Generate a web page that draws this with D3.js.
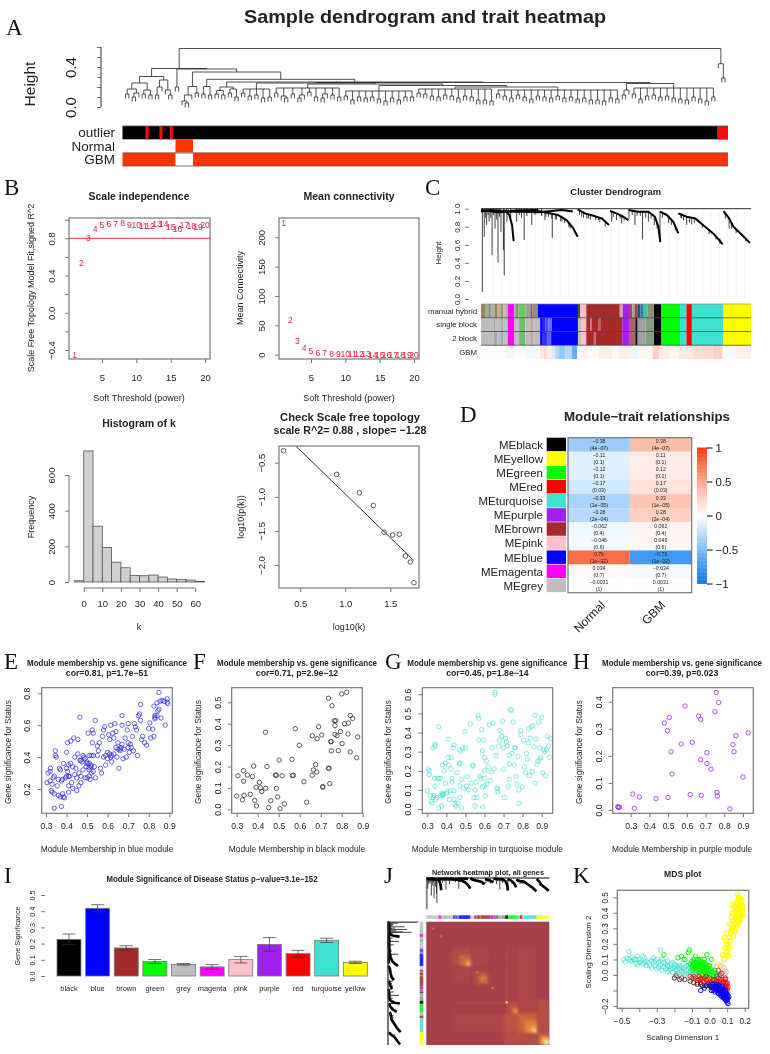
<!DOCTYPE html>
<html>
<head>
<meta charset="utf-8">
<script src="https://cdn.jsdelivr.net/npm/d3@7/dist/d3.min.js"></script>
<style>
  html, body { margin: 0; padding: 0; background: #fff; }
  svg { display: block; filter: blur(0.5px); }
  text { font-family: "Liberation Sans", Arial, sans-serif; fill: #222; }
</style>
</head>
<body>
<div id="chart"></div>
<script>
////////////////////////////////////////////////////////////////////////
// Data

// A: sample tree, a node is [height, child, child, ...] and a leaf is 0
let sampleGroupA = [.305,[.24,[.18,[.13,0,0],[.14,[.1,0,0],0]],[.17,[.13,0,0],[.12,0,0]]],[.27,[.2,[.12,0,0],0],[.17,0,[.12,0,0]]]];
let sampleStub = [.2,0,0];
let sampleGroupB = [.205,[.12,[.06,0,[.04,0,0]],0],[.14,0,0]];
let sampleGroupC = [.205,[.13,0,0],[.12,0,0]];
let sampleGroupC2 = [.2,[.165,[.13,0,0],[.12,0,0]],[.18,[.14,0,0],[.1,0,0]]];
let sampleGroupD = [.18,[.14,0,0],[.11,0,0],[.12,0,0],[.09,0,0],[.1,0,0]];
let sampleGroupE = [.19,[.14,0,0],[.11,0,[.09,0,0]],[.13,0,0],[.12,[.09,0,0],0],[.15,0,0],[.1,0,0],[.13,[.09,0,0],0],[.12,0,0],[.1,0,0]];
let sampleGroupF = [.16,[.11,0,0],[.07,0,0],[.1,0,0],[.09,0,0],[.1,0,0],[.08,0,0],[.06,0,0],[.09,0,0],[.07,0,0],[.1,0,0],[.1,0,0]];
let sampleGroupG = [.18,[.14,0,0],[.13,0,0],[.11,0,0],[.1,0,0],[.12,0,0],[.11,0,0],[.09,0,0],[.11,0,0],[.1,0,0],[.07,0,0],[.07,0,0],[.06,0,0]];
let sampleGroupH = [.17,[.13,0,0],[.11,0,0],[.09,0,0],[.12,0,0],[.1,0,0],[.08,0,0],[.11,0,0],[.1,0,0],[.09,0,0],[.11,0,0],[.09,0,0],[.1,0,0],[.08,0,0],[.09,0,0],[.07,0,0],[.07,0,0],[.06,0,0],[.09,0,0],[.08,0,0]];
let sampleGroupI = [.17,[.12,0,0],0];
let sampleGroupJ = [.19,[.13,0,0],[.08,0,0],[.11,0,0],[.12,0,0],[.1,0,0],[.11,0,0],[.09,0,0],[.08,0,0],[.07,0,0],[.1,0,0],[.08,0,0],[.06,0,0],[.1,0,0]];
let sampleOutliers = [.433,0,[.29,0,0]];
let sampleTree = [.585,
  [.385, sampleGroupA,
    [.38, sampleStub,
      [.35, sampleGroupB,
        [.277, sampleGroupC,
          [.25, sampleGroupC2,
            [.245,
              [.24, sampleGroupD, [.23, sampleGroupE, [.215, sampleGroupF, [.2, sampleGroupG, sampleGroupH]]]],
              [.235, sampleGroupI, sampleGroupJ]]]]]]],
  sampleOutliers];

let traitRows = ["outlier", "Normal", "GBM"];
let outlierMarks = [[.038, .043], [.061, .066], [.078, .083], [.982, 1]];
let normalSpan = [.0875, .1165];

// B
let powers = d3.range(1, 21);
let scaleFit = [-.45,.53,.80,.90,.94,.95,.955,.96,.94,.94,.935,.93,.95,.955,.925,.90,.94,.935,.92,.94];
let meanConnectivity = [224,59,22.7,10.8,6,3.5,2.2,1.5,1,.8,.6,.5,.4,.3,.3,.2,.2,.2,.1,.1];
let histBinStarts = [-5,0,5,10,15,20,25,30,35,40,45,50,55,60];
let histCounts = [7,735,313,194,111,80,37,35,39,28,17,15,11,4];
let logK = [.315,.904,1.156,1.311,1.43,1.526,1.6,1.667,1.722,1.763];
let logPk = [-.324,-.672,-.941,-1.128,-1.52,-1.559,-1.549,-1.868,-1.956,-2.26];
let fitLineX = [.3, 1.76];
let fitLineY = [-.063, -1.932];

// C, J: gene tree, position 0-1000 along the genes, height 0-1
let geneCurves = [
  [[0,.97],[40,.985],[89,.97],[130,.98],[212,.985]],
  [[0,.985],[60,.96],[120,.97],[212,.96],[300,.985],[340,.97]],
  [[89,.985],[105,.93],[115,.82],[121,.64]],
  [[212,.974],[249,.952],[286,.93],[317,.874],[342,.781],[358,.689]],
  [[358,.993],[385,.948],[416,.922],[447,.893],[474,.819]],
  [[478,.974],[502,.948],[527,.911],[546,.874]],
  [[546,.985],[583,.967],[620,.967],[644,.911],[657,.8],[664,.633]],
  [[663,.967],[688,.93],[712,.856],[731,.726]],
  [[731,.948],[762,.911],[793,.893],[830,.8],[860,.726],[879,.663],[895,.604]],
  [[898,.974],[919,.893],[935,.8],[965,.715],[996,.622]]
];
// a spike is [position, bottom height, top height if not the top of the tree]
let geneSpikes = [[5,.078],[12,.689],[21,.82],[30,.856],[41,.485],[52,.78],[63,.404],[74,.744],[83,.54],[86,.263],[96,.856],[132,.856],[160,.652],[188,.82],[264,.678,.95],[237,.874,.96],[373,.911,.97],[398,.893,.94],[435,.874,.91],[484,.856,.97],[502,.874,.95],[521,.837,.92],[548,.893,.98],[570,.82,.97],[598,.659,.97],[620,.856,.97],[642,.82,.92],[663,.626,.97],[743,.893,.95],[762,.82,.91],[780,.826,.9],[919,.78,.9],
  [16,.9],[26,.93],[36,.9],[47,.93],[58,.88],[69,.91],[101,.93],[110,.9],[142,.93],[150,.9],[170,.92],[200,.93],[224,.93],[250,.91,.95],[280,.88,.93],[300,.86,.92],[325,.8,.86],
  [225,.92,.97],[240,.91,.96],[262,.89,.94],[275,.88,.94],[295,.86,.92],[310,.84,.89],[330,.78,.83],[365,.93,.98],[380,.9,.96],[392,.89,.94],[405,.88,.93],[425,.87,.92],[440,.85,.9],[460,.8,.85],[490,.91,.96],[515,.89,.93],[530,.87,.91],[560,.93,.98],[578,.92,.97],[590,.92,.97],[610,.9,.97],[630,.89,.95],[652,.78,.85],[672,.9,.96],[695,.84,.92],[705,.82,.87],[720,.76,.82],[740,.9,.94],[750,.87,.92],[772,.85,.91],[790,.84,.89],[805,.85,.88],[820,.79,.84],[845,.72,.77],[870,.66,.71],[885,.61,.67],[905,.89,.95],[928,.78,.84],[945,.73,.77],[980,.64,.68]];
let geneGuides = d3.range(15, 1000, 31);
let geneAxisTicks = [0, .2, .4, .6, .8, 1];

// C: colour rows as [end position, colour]
let moduleTail = [[667,"#000000"],[737,"#00ff00"],[761,"#40e0d0"],[781,"#ff0000"],[898,"#40e0d0"],[1000,"#ffff00"]];
let manualHybridRow = [[15,"#a08060"],[22,"#7fb07f"],[30,"#b5a58c"],[36,"#777777"],[52,"#b8b0a0"],[59,"#808060"],[74,"#c0b090"],[82,"#90a070"],[92,"#c8b8a0"],[99,"#b0b0b0"],[124,"#ff00ff"],[129,"#b0b0a0"],[139,"#70a060"],[164,"#60d060"],[183,"#a0a0a0"],[191,"#a05050"],[211,"#909080"],[359,"#0000ff"],[368,"#505050"],[390,"#ffc0cb"],[514,"#a52a2a"],[525,"#e0a0a8"],[548,"#a020f0"],[560,"#a05040"],[570,"#a0a090"],[579,"#a04040"],[591,"#305070"],[600,"#2080c0"],[616,"#40c0a0"],[641,"#909070"]].concat(moduleTail);
let singleBlockRow = [[46,"#bebebe"],[52,"#a8a0b8"],[74,"#bebebe"],[82,"#a8a8a8"],[99,"#bebebe"],[124,"#ff00ff"],[141,"#bebebe"],[164,"#70c070"],[182,"#bebebe"],[195,"#c8a0a8"],[219,"#bebebe"],[226,"#0000ff"],[238,"#2020ff"],[250,"#4848ff"],[263,"#6a6aff"],[359,"#0000ff"],[372,"#bebebe"],[390,"#ffc0cb"],[405,"#a52a2a"],[411,"#c07070"],[436,"#a52a2a"],[442,"#b86060"],[523,"#a52a2a"],[548,"#a020f0"],[572,"#b06060"],[580,"#000000"],[610,"#a0a0a0"],[641,"#80a080"]].concat(moduleTail);
let twoBlockRow = [[46,"#bebebe"],[60,"#a8a0b8"],[74,"#bebebe"],[82,"#a8a8a8"],[99,"#bebebe"],[124,"#ff00ff"],[141,"#bebebe"],[164,"#70c070"],[182,"#bebebe"],[195,"#c8a0a8"],[219,"#bebebe"],[226,"#0000ff"],[245,"#3030ff"],[258,"#5a5aff"],[263,"#2020ff"],[359,"#0000ff"],[372,"#bebebe"],[390,"#ffc0cb"],[418,"#a52a2a"],[424,"#c07070"],[523,"#a52a2a"],[548,"#a020f0"],[572,"#b06060"],[580,"#000000"],[610,"#a0a0a0"],[641,"#80a080"]].concat(moduleTail);
let gbmRow = [[89,.01],[126,-.05],[164,.02],[219,-.05],[232,.15],[244,.22],[263,.1],[275,-.15],[287,-.3],[312,-.4],[337,-.3],[356,-.6],[374,-.03],[399,.07],[436,.03],[486,.1],[510,.05],[548,.1],[585,-.07],[635,.06],[659,.28],[696,.12],[733,.06],[783,.12],[820,.2],[857,.22],[895,.27],[944,-.03],[1000,.08]];
let geneRowNames = ["manual hybrid", "single block", "2 block", "GBM"];

// D
let moduleNames = ["MEblack","MEyellow","MEgreen","MEred","MEturquoise","MEpurple","MEbrown","MEpink","MEblue","MEmagenta","MEgrey"];
let moduleSwatches = ["#000000","#ffff00","#00ff00","#ff0000","#40e0d0","#a020f0","#a52a2a","#ffc0cb","#0000ff","#ff00ff","#bebebe"];
let normalCor = [-.38,-.11,-.12,-.17,-.33,-.28,-.062,-.046,.76,.034,-.0031];
let normalCorText = ["−0.38","−0.11","−0.12","−0.17","−0.33","−0.28","−0.062","−0.046","0.76","0.034","−0.0031"];
let gbmCorText = ["0.38","0.11","0.12","0.17","0.33","0.28","0.062","0.046","−0.76","−0.034","0.0031"];
let corP = ["(4e−07)","(0.1)","(0.1)","(0.03)","(1e−05)","(2e−04)","(0.4)","(0.6)","(1e−32)","(0.7)","(1)"];
let traitNames = ["Normal", "GBM"];
let legendTicks = [-1, -.5, 0, .5, 1];
let legendLabels = ["−1", "−0.5", "0", "0.5", "1"];

// E-H
let bluePoints = [[.305,.24],[.31,.3],[.32,.31],[.322,.33],[.32,.25],[.325,.19],[.33,.18],[.33,.23],[.335,.27],[.34,.28],[.34,.17],[.345,.41],[.35,.4],[.345,.44],[.34,.08],[.355,.22],[.36,.26],[.36,.16],[.365,.33],[.37,.32],[.37,.15],[.375,.09],[.375,.25],[.38,.26],[.38,.17],[.385,.15],[.39,.145],[.385,.36],[.395,.27],[.40,.43],[.405,.49],[.40,.33],[.405,.31],[.41,.35],[.41,.18],[.41,.22],[.415,.28],[.42,.36],[.42,.5],[.425,.24],[.43,.205],[.43,.34],[.435,.52],[.44,.29],[.44,.4],[.445,.33],[.45,.19],[.455,.51],[.45,.27],[.455,.42],[.46,.3],[.46,.22],[.465,.38],[.465,.65],[.47,.24],[.47,.28],[.475,.37],[.48,.32],[.48,.41],[.485,.4],[.49,.39],[.495,.34],[.50,.37],[.50,.27],[.505,.55],[.51,.36],[.51,.32],[.51,.28],[.515,.26],[.52,.41],[.52,.35],[.525,.49],[.525,.57],[.53,.55],[.53,.41],[.53,.31],[.535,.34],[.54,.63],[.54,.27],[.55,.41],[.55,.47],[.555,.44],[.56,.49],[.565,.33],[.57,.3],[.575,.53],[.58,.57],[.585,.59],[.59,.41],[.59,.35],[.6,.43],[.6,.39],[.605,.54],[.61,.51],[.615,.6],[.615,.4],[.62,.37],[.625,.55],[.63,.52],[.63,.42],[.635,.61],[.64,.56],[.64,.46],[.645,.4],[.65,.49],[.655,.33],[.66,.44],[.665,.46],[.67,.66],[.67,.6],[.675,.39],[.68,.45],[.685,.52],[.69,.4],[.695,.57],[.70,.61],[.70,.49],[.705,.43],[.71,.48],[.715,.46],[.72,.53],[.725,.44],[.73,.61],[.735,.59],[.74,.57],[.745,.41],[.75,.66],[.755,.67],[.76,.73],[.76,.63],[.765,.51],[.77,.53],[.78,.49],[.79,.475],[.80,.58],[.805,.615],[.81,.52],[.82,.575],[.825,.53],[.825,.72],[.83,.65],[.83,.64],[.84,.74],[.84,.66],[.845,.69],[.85,.805],[.855,.75],[.86,.645],[.865,.755],[.875,.75],[.88,.6],[.89,.765],[.89,.745],[.892,.735],[.85,.7],[.83,.66],[.51,.41],[.52,.3],[.49,.27],[.66,.45],[.7,.46],[.62,.41],[.58,.4],[.47,.38],[.4,.28],[.41,.28],[.5,.36],[.51,.335],[.52,.34],[.65,.45],[.61,.42],[.67,.48]];
let blackPoints = [[.3,.062],[.306,.157],[.327,.044],[.335,.065],[.332,.181],[.333,.131],[.351,.16],[.365,.07],[.375,.153],[.381,.202],[.386,.042],[.392,.103],[.394,.016],[.408,.126],[.413,.1],[.419,.083],[.438,.098],[.444,.2],[.437,.36],[.452,.008],[.462,.04],[.489,.098],[.484,.16],[.489,.159],[.495,.058],[.502,.23],[.506,.003],[.516,.157],[.527,.025],[.563,.234],[.565,.157],[.57,.159],[.579,.377],[.598,.299],[.62,.129],[.633,.033],[.659,.159],[.66,.344],[.665,.184],[.676,.209],[.681,.174],[.683,.33],[.69,.386],[.705,.347],[.71,.103],[.71,.107],[.737,.192],[.74,.192],[.737,.519],[.743,.12],[.748,.316],[.75,.316],[.751,.273],[.754,.484],[.765,.414],[.771,.414],[.768,.391],[.768,.35],[.778,.344],[.784,.274],[.794,.363],[.8,.539],[.802,.307],[.813,.4],[.824,.547],[.832,.403],[.83,.352],[.841,.438],[.841,.268],[.852,.424],[.871,.241],[.876,.338]];
let turquoisePoints = [[.3,.095],[.305,.21],[.31,.2],[.31,.18],[.315,.07],[.32,.04],[.325,.03],[.33,.32],[.33,.06],[.335,.07],[.34,.34],[.34,.33],[.34,.16],[.34,.12],[.345,.05],[.35,.06],[.355,.16],[.36,.43],[.36,.16],[.36,.005],[.37,.16],[.37,.07],[.375,.015],[.375,.08],[.38,.23],[.38,.07],[.385,.08],[.39,.2],[.395,.24],[.395,.135],[.4,.08],[.405,.09],[.41,.365],[.41,.27],[.41,.23],[.415,.05],[.42,.095],[.425,.27],[.425,.21],[.43,.16],[.43,.14],[.435,.32],[.44,.335],[.44,.095],[.44,.05],[.445,.025],[.45,.015],[.455,.19],[.46,.03],[.47,.31],[.47,.24],[.47,.12],[.47,.06],[.475,.3],[.48,.155],[.48,.005],[.485,.32],[.49,.11],[.495,.405],[.5,.32],[.505,.12],[.51,.17],[.515,.1],[.525,.445],[.53,.135],[.54,.23],[.545,.06],[.55,.1],[.55,.015],[.555,.14],[.56,.06],[.565,.49],[.57,.475],[.57,.36],[.575,.17],[.58,.16],[.585,.415],[.59,.305],[.59,.01],[.595,.36],[.6,.27],[.6,.2],[.6,.12],[.605,.07],[.61,.25],[.615,.13],[.62,.22],[.625,.44],[.63,.15],[.635,.195],[.64,.32],[.645,.45],[.65,.21],[.655,.61],[.655,.6],[.66,.28],[.665,.11],[.67,.09],[.675,.33],[.68,.41],[.68,.36],[.69,.38],[.695,.46],[.7,.32],[.7,.21],[.705,.06],[.71,.37],[.715,.35],[.72,.33],[.725,.12],[.73,.28],[.73,.155],[.735,.52],[.74,.515],[.745,.29],[.75,.455],[.755,.23],[.76,.32],[.765,.17],[.77,.13],[.775,.275],[.78,.03],[.78,.1],[.79,.41],[.79,.39],[.8,.115],[.805,.36],[.81,.22],[.815,.19],[.82,.29],[.825,.26],[.83,.42],[.83,.345],[.835,.175],[.84,.37],[.845,.43],[.85,.195],[.855,.435],[.86,.325],[.865,.49],[.865,.135],[.87,.365],[.875,.235],[.88,.25],[.885,.455],[.89,.26],[.89,.32],[.895,.27],[.9,.48],[.905,.19],[.91,.31],[.915,.3],[.92,.175],[.925,.31],[.93,.38],[.935,.33],[.94,.27],[.945,.37],[.59,.115],[.6,.16],[.47,.235],[.54,.225],[.38,.075],[.67,.105],[.73,.235],[.76,.32]];
let purplePoints = [[.231,.012],[.234,.01],[.24,.01],[.311,.059],[.32,.006],[.346,.048],[.435,.042],[.48,.321],[.496,.293],[.499,.046],[.506,.342],[.515,.215],[.521,.133],[.57,.244],[.59,.384],[.618,.057],[.629,.25],[.663,.347],[.674,.335],[.674,.186],[.677,.054],[.707,.212],[.707,.172],[.729,.151],[.75,.363],[.757,.434],[.761,.065],[.763,.052],[.77,.397],[.83,.004],[.846,.241],[.852,.215],[.862,.274],[.9,.122],[.928,.285]];
let statusTitles = ["cor=0.81, p=1.7e−51", "cor=0.71, p=2.9e−12", "cor=0.45, p=1.8e−14", "cor=0.39, p=0.023"];
let statusLabels = ["Module Membership in blue module", "Module Membership in black module", "Module Membership in turquoise module", "Module Membership in purple module"];
let membershipTicks = [.3, .4, .5, .6, .7, .8, .9];

// I
let barModules = ["black","blue","brown","green","grey","magenta","pink","purple","red","turquoise","yellow"];
let barColors = ["#000000","#0000ff","#a52a2a","#00ff00","#bebebe","#ff00ff","#ffc0cb","#a020f0","#ff0000","#40e0d0","#ffff00"];
let barValues = [.226,.418,.173,.09,.072,.056,.101,.195,.138,.22,.084];
let barErrors = [.033,.022,.014,.012,.005,.014,.02,.042,.02,.013,.007];
let barTicks = [0, .1, .2, .3, .4, .5];

// J: heat rectangles as [x0, x1, y0, y1, level], gene positions 0-1000
let tomRects = [
  [740,897,216,740,.06],[216,740,740,897,.06],[630,897,905,1000,.14],[905,1000,630,897,.14],
  [206,360,216,360,.13],[270,360,270,360,.34],[310,360,310,360,.55],[335,360,335,360,.78],
  [395,504,405,514,.14],[430,500,430,500,.32],[445,480,445,480,.55],
  [667,740,662,738,.2],[700,740,700,738,.5],[720,740,720,738,.78],
  [631,897,743,900,.2],[740,897,740,900,.32],[800,897,800,900,.5],[850,897,850,900,.72],[875,897,875,900,.92],
  [905,1000,905,1000,.32],[935,1000,935,1000,.7],[965,1000,965,1000,1],
  [380,500,216,360,.05],[216,360,380,500,.05]
];
let tomStripes = [[260,.08],[340,.12],[420,.08],[560,.08],[653,.28],[700,.1],[770,.16],[800,.18],[835,.16],[865,.2]];
let tomDots = [57,119,290,412,468,539,653,780];

// K: MDS points, one list per module
let mdsTurquoise = [[-.49,.1],[-.48,.085],[-.47,.11],[-.46,.1],[-.45,.09],[-.44,.115],[-.43,.1],[-.42,.075],[-.41,.12],[-.41,.065],[-.4,.1],[-.39,.085],[-.38,.07],[-.38,.12],[-.37,.11],[-.36,.09],[-.34,.06],[-.33,.045],[-.32,.11],[-.32,.08],[-.31,.06],[-.3,.1],[-.3,.04],[-.29,.08],[-.28,.065],[-.27,.1],[-.27,.03],[-.26,.05],[-.25,.07],[-.24,.02],[-.23,.055],[-.22,.04],[-.21,.08],[-.21,.015],[-.2,.05],[-.19,.03],[-.18,.01],[-.17,.06],[-.16,.025],[-.15,.1],[-.15,.04],[-.14,.005],[-.13,.03],[-.12,.07],[-.11,.02],[-.1,.05],[-.09,0],[-.08,.03],[-.07,-.01],[-.06,.01],[-.05,.05],[-.04,-.02],[-.03,-.005],[-.02,.02],[-.28,.16],[-.46,.15],[-.33,.09],[-.24,.09],[-.18,.05],[-.13,.06],[-.09,.07],[-.35,.08],[-.31,.09],[-.28,.09],[-.26,.08],[-.24,.06],[-.22,.07],[-.2,.07],[-.19,.06],[-.17,.04],[-.16,.05],[-.15,.02],[-.14,.05],[-.13,.01],[-.12,.04],[-.11,.05],[-.1,.01],[-.09,.03],[-.08,0],[-.07,.02],[-.06,.03],[-.05,0],[-.05,.02],[-.44,.09],[-.42,.1],[-.4,.08],[-.37,.08],[-.36,.06],[-.29,.05],[-.25,.04],[-.23,.03],[-.21,.04],[-.19,.01],[-.17,0],[-.12,0],[-.08,.06],[-.04,.02]];
let mdsYellow = [[.085,.1],[.075,.13],[.09,.17],[.1,.2],[.095,.15],[.11,.24],[.105,.19],[.1,.27],[.085,.24],[.12,.27],[.125,.32],[.115,.33],[.13,.3],[.135,.35],[.14,.29],[.125,.37],[.13,.4],[.14,.37],[.145,.41],[.15,.33],[.155,.36],[.15,.43],[.16,.4],[.165,.38],[.165,.44],[.17,.36],[.175,.42],[.175,.47],[.18,.39],[.185,.45],[.155,.47],[.165,.5],[.16,.52],[.18,.49],[.17,.4],[.14,.44],[.13,.45],[.19,.38],[.11,.12],[.06,.06],[.14,.33],[.15,.38],[.16,.35],[.17,.43],[.18,.42],[.19,.41],[.185,.48],[.175,.44],[.165,.41],[.155,.4],[.145,.36],[.135,.31],[.125,.29],[.15,.45],[.16,.46],[.17,.49],[.175,.38],[.165,.35],[.155,.31],[.145,.28],[.135,.25],[.12,.22],[.115,.18],[.105,.16],[.095,.22],[.1,.13],[.17,.34],[.18,.37],[.19,.44],[.16,.43]];
let mdsGreen = [[-.26,.13],[-.18,.11],[-.16,.12],[-.12,.145],[-.115,.16],[-.14,.1],[-.1,.06],[-.09,.1],[-.09,.04],[-.08,.08],[-.08,.12],[-.07,.05],[-.07,.09],[-.06,.03],[-.06,.07],[-.05,.1],[-.05,.05],[-.04,.02],[-.04,.06],[-.03,.08],[-.03,.04],[-.02,.01],[-.02,.05],[-.01,.03],[0,0],[0,.06],[.01,.02],[.02,-.01],[.03,.01],[-.11,.07],[-.1,.09],[-.075,.03],[-.055,.085],[-.035,.03],[-.045,.075],[-.065,.06],[-.015,.13],[.01,.1],[-.025,.06],[-.1,.03],[-.09,.07],[-.085,.055],[-.08,.05],[-.075,.07],[-.07,.07],[-.065,.04],[-.06,.05],[-.06,.09],[-.055,.06],[-.05,.07],[-.05,.03],[-.045,.05],[-.04,.04],[-.04,.08],[-.035,.06],[-.03,.06],[-.03,.02],[-.025,.04],[-.02,.03],[-.02,.07],[-.015,.05],[-.01,.01],[-.01,.06],[0,.03],[.005,.04],[-.07,.1],[-.05,.09],[-.03,.1],[-.09,.085],[.02,.02],[.03,.03],[.04,0],[-.02,0],[-.06,.02],[.01,0],[-.04,0]];
let mdsBrown = [[-.19,-.005],[-.16,-.02],[-.1,-.02],[-.07,-.05],[-.05,-.03],[-.03,-.02],[-.01,-.05],[0,-.02],[.01,-.06],[.03,-.03],[.04,-.05],[.05,-.02],[.06,-.04],[.07,-.07],[.08,-.05],[.09,-.08],[.05,.03],[.07,.01],[-.09,-.01],[-.05,-.05],[-.02,-.01],[.02,-.03],[.03,-.05],[.05,-.07],[.07,-.05],[.09,-.02],[.1,-.05],[.1,-.1],[.04,-.01],[.06,0]];
let mdsRed = [[-.11,-.01],[-.08,-.02],[-.07,-.035],[-.06,-.01],[-.04,-.04],[-.02,-.03],[0,-.045],[.02,-.04],[.03,-.06],[.05,-.05],[.07,-.03],[.08,-.07],[.09,-.05],[.1,-.09],[-.06,-.03],[-.05,-.02],[-.03,-.04],[-.01,-.03],[.01,-.05],[.04,-.04],[.06,-.03],[.06,-.06],[.08,-.04],[.09,-.03],[.095,-.07],[.1,-.06],[.105,-.08],[.09,-.09]];
let mdsBlack = [[-.2,-.02],[-.17,-.03],[-.11,-.04],[-.07,-.06],[-.04,-.07],[-.01,-.06],[.01,-.08],[.03,-.09],[.04,-.07],[.06,-.1],[-.14,-.03],[-.09,-.05],[-.05,-.06],[-.02,-.07],[.02,-.07],[.04,-.085],[.05,-.09],[.01,-.06]];
let mdsPink = [[-.02,.04],[0,.03],[.02,.06],[.04,.05],[.06,.02],[.07,.04],[.05,.07],[.08,.02],[.01,.05],[.03,.02],[.05,.01],[.07,.06],[.09,.03],[.08,0]];
let mdsGrey = [[-.15,.01],[-.09,.02],[.03,.03],[.06,.06],[.08,.05],[.09,0],[.1,-.03],[.09,-.06],[.06,.01],[.07,0],[.03,0],[.01,0],[.095,.02]];
let mdsBlue = [[-.05,-.1],[-.03,-.085],[0,-.07],[.01,-.1],[.02,-.06],[.02,-.085],[.03,-.11],[.04,-.09],[.04,-.06],[.05,-.12],[.05,-.08],[.06,-.13],[.06,-.09],[.07,-.075],[.07,-.11],[.07,-.14],[.08,-.09],[.08,-.12],[.08,-.15],[.09,-.1],[.09,-.13],[.09,-.16],[.1,-.12],[.1,-.15],[.1,-.175],[.105,-.185],[.11,-.14],[.075,-.1],[.06,-.11],[.095,-.145],[.03,-.075],[.04,-.1],[.05,-.1],[.055,-.07],[.06,-.12],[.065,-.1],[.07,-.09],[.07,-.125],[.075,-.13],[.08,-.105],[.08,-.135],[.085,-.11],[.085,-.145],[.09,-.115],[.09,-.145],[.095,-.12],[.095,-.165],[.1,-.135],[.1,-.16],[.105,-.15],[.06,-.08],[.05,-.065],[-.02,-.07],[.01,-.075],[.02,-.1]];
let mdsXTicks = [-.5,-.4,-.3,-.2,-.1,0,.1,.2];
let mdsXLabelled = [-.5,-.3,-.1,0,.1,.2];
let mdsYTicks = [-.2,-.1,0,.1,.2,.3,.4,.5];
let mdsYLabelled = [-.2,0,.1,.2,.3,.4,.5];

////////////////////////////////////////////////////////////////////////
// Helpers

let svg = d3.select("#chart").append("svg").attr("width", 770).attr("height", 1054);

let frameColor = "#777";

function fmt(v, digits) {
  return v.toFixed(digits).replace("-", "−");
}

// text centred on y, optional rotation
function txt(s, x, y, size, opts) {
  opts = opts || {};
  let t = svg.append("text")
    .attr("transform", "translate(" + x + "," + y + ")" + (opts.rot ? " rotate(" + opts.rot + ")" : ""))
    .attr("dy", ".35em")
    .attr("text-anchor", opts.anchor || "middle")
    .attr("font-size", size)
    .text(s);
  if (opts.bold) t.attr("font-weight", "bold");
  if (opts.serif) t.style("font-family", "'Liberation Serif', serif");
  if (opts.fill) t.style("fill", opts.fill);
  if (opts.len) t.attr("textLength", opts.len).attr("lengthAdjust", "spacingAndGlyphs");
  return t;
}

function letter(s, x, y) {
  return txt(s, x, y, 23, {serif: true, anchor: "start", fill: "#111"});
}

// bottom axis, R looks: ticks only, labels some distance below
function bottomAxis(scale, y, ticks, labelled, digits, pad, size) {
  let g = svg.append("g").attr("transform", "translate(0," + y + ")");
  g.call(d3.axisBottom(scale).tickValues(ticks).tickSize(4).tickPadding(pad)
    .tickFormat(function(d) { return labelled.includes(d) ? fmt(d, digits) : ""; }));
  g.select(".domain").remove();
  g.selectAll(".tick line").attr("stroke", frameColor);
  g.selectAll("text").attr("font-size", size).style("font-family", null);
  return g;
}

// left axis with rotated labels centred on labelX
function leftAxis(scale, x, ticks, labelled, digits, labelX, size) {
  let g = svg.append("g").attr("transform", "translate(" + x + ",0)");
  g.call(d3.axisLeft(scale).tickValues(ticks).tickSize(4)
    .tickFormat(function(d) { return labelled.includes(d) ? fmt(d, digits) : ""; }));
  g.select(".domain").remove();
  g.selectAll(".tick line").attr("stroke", frameColor);
  g.selectAll("text")
    .attr("x", 0).attr("dy", ".35em").attr("y", 0)
    .attr("text-anchor", "middle")
    .attr("transform", "translate(" + (labelX - x) + ",0) rotate(-90)")
    .attr("font-size", size);
  return g;
}

function frame(b) {
  svg.append("rect")
    .attr("x", b.x0).attr("y", b.y0)
    .attr("width", b.x1 - b.x0).attr("height", b.y1 - b.y0)
    .attr("fill", "none").attr("stroke", frameColor).attr("stroke-width", 1.2);
}

function circles(points, x, y, color, r, opacity, width) {
  svg.append("g").selectAll("circle").data(points).enter().append("circle")
    .attr("cx", function(d) { return x(d[0]); })
    .attr("cy", function(d) { return y(d[1]); })
    .attr("r", r)
    .attr("fill", "none")
    .attr("stroke", color)
    .attr("stroke-width", width || .8)
    .attr("stroke-opacity", opacity || 1);
}

let corColor = d3.scaleLinear()
  .domain([-1, -.5, 0, .5, 1])
  .range(["#0a78ee", "#7cbcfb", "#ffffff", "#ffa98e", "#f33a10"]);

////////////////////////////////////////////////////////////////////////
// A: sample dendrogram and trait rows

txt("Sample dendrogram and trait heatmap", 425, 16, 19, {bold: true, len: 362});
letter("A", 6, 27);

function drawSampleTree() {
  let root = d3.hierarchy(sampleTree, function(d) { return Array.isArray(d) ? d.slice(1) : null; });
  let leaves = root.leaves();
  leaves.forEach(function(l, i) { l.pos = i; });
  let hang = .045;
  root.eachBefore(function(n) {
    n.h = n.children ? n.data[0] : n.parent.data[0] - hang;
  });
  root.eachAfter(function(n) {
    if (n.children) n.pos = (n.children[0].pos + n.children[n.children.length - 1].pos) / 2;
  });
  let x = d3.scaleLinear().domain([0, leaves.length - 1]).range([125.6, 725]);
  let y = d3.scaleLinear().domain([0, .6]).range([107, 47]);
  let p = d3.path();
  root.descendants().forEach(function(n) {
    if (!n.children) return;
    p.moveTo(x(n.children[0].pos), y(n.h));
    p.lineTo(x(n.children[n.children.length - 1].pos), y(n.h));
    n.children.forEach(function(c) {
      p.moveTo(x(c.pos), y(n.h));
      p.lineTo(x(c.pos), y(c.h));
    });
  });
  svg.append("path").attr("d", p.toString()).attr("fill", "none").attr("stroke", "#222").attr("stroke-width", .8);

  leftAxis(y, 101, [0, .1, .2, .3, .4, .5, .6], [0, .4], 1, 71, 15);
  svg.append("line").attr("x1", 101).attr("x2", 101).attr("y1", y(0)).attr("y2", y(.6)).attr("stroke", "#333");
  txt("Height", 30, 84, 15.5, {rot: -90});
}
drawSampleTree();

function drawTraitRows() {
  let x = d3.scaleLinear().domain([0, 1]).range([122.5, 728]);
  let y = d3.scaleBand().domain(traitRows).range([126, 166]);
  let h = y.bandwidth();
  svg.append("rect").attr("x", x(0)).attr("y", y("outlier")).attr("width", x(1) - x(0)).attr("height", h).attr("fill", "#000");
  svg.append("g").selectAll("rect").data(outlierMarks).enter().append("rect")
    .attr("x", function(d) { return x(d[0]); })
    .attr("width", function(d) { return x(d[1]) - x(d[0]); })
    .attr("y", y("outlier")).attr("height", h).attr("fill", "#ff0a0a");
  svg.append("rect").attr("x", x(normalSpan[0])).attr("y", y("Normal")).attr("width", x(normalSpan[1]) - x(normalSpan[0])).attr("height", h).attr("fill", "#ff3300");
  svg.append("rect").attr("x", x(0)).attr("y", y("GBM")).attr("width", x(1) - x(0)).attr("height", h).attr("fill", "#ff3300");
  svg.append("rect").attr("x", x(normalSpan[0])).attr("y", y("GBM")).attr("width", x(normalSpan[1]) - x(normalSpan[0])).attr("height", h).attr("fill", "#fff");
  [126, 153, 166].forEach(function(v) {
    svg.append("line").attr("x1", x(0)).attr("x2", x(1)).attr("y1", v).attr("y2", v).attr("stroke", "#555").attr("stroke-width", .8);
  });
  traitRows.forEach(function(r) {
    txt(r, 115, y(r) + h / 2, 13.5, {anchor: "end"});
  });
}
drawTraitRows();

////////////////////////////////////////////////////////////////////////
// B: soft threshold panels

letter("B", 4, 187);

function drawPowerPanel(b, xScale, yScale, values, yTicks, yLabelled, digits, labelX, title, yTitle, titleX, yTitleX, hline) {
  frame(b);
  bottomAxis(xScale, b.y1, [5, 10, 15, 20], [5, 10, 15, 20], 0, 11, 9.5);
  leftAxis(yScale, b.x0, yTicks, yLabelled, digits, labelX, 9.5);
  txt(title, titleX, 196, 10.5, {bold: true});
  txt("Soft Threshold (power)", titleX, 398, 9);
  txt(yTitle, yTitleX, 288, 9, {rot: -90});
  if (hline !== undefined) {
    svg.append("line").attr("x1", b.x0).attr("x2", b.x1)
      .attr("y1", yScale(hline)).attr("y2", yScale(hline)).attr("stroke", "#f03030");
  }
  svg.append("g").selectAll("text").data(powers).enter().append("text")
    .attr("x", function(d) { return xScale(d); })
    .attr("y", function(d, i) { return yScale(values[i]); })
    .attr("dy", ".35em").attr("text-anchor", "middle")
    .attr("font-size", 8.6).style("fill", "#e8233a")
    .text(function(d) { return d; });
}

drawPowerPanel({x0: 69, x1: 210, y0: 218, y1: 359},
  d3.scaleLinear().domain([5, 20]).range([102, 205]),
  d3.scaleLinear().domain([-.4, .8]).range([350, 238.3]),
  scaleFit, [-.4, -.2, 0, .2, .4, .6, .8, 1], [-.4, 0, .4, .8], 1, 52,
  "Scale independence", "Scale Free Topology Model Fit,signed R^2", 139, 31, .8);

drawPowerPanel({x0: 279, x1: 419, y0: 218, y1: 359},
  d3.scaleLinear().domain([5, 20]).range([311, 414]),
  d3.scaleLinear().domain([0, 200]).range([354.7, 237.3]),
  meanConnectivity, [0, 50, 100, 150, 200], [0, 50, 100, 150, 200], 0, 262,
  "Mean connectivity", "Mean Connectivity", 349, 240);

function drawHistogram() {
  let x = d3.scaleLinear().domain([0, 60]).range([83.7, 195.3]);
  let y = d3.scaleLinear().domain([0, 600]).range([582, 475]);
  svg.append("g").selectAll("rect").data(histBinStarts).enter().append("rect")
    .attr("x", function(d) { return x(d); })
    .attr("width", function(d) { return x(d + 5) - x(d); })
    .attr("y", function(d, i) { return y(histCounts[i]); })
    .attr("height", function(d, i) { return y(0) - y(histCounts[i]); })
    .attr("fill", "#d0d0d0").attr("stroke", "#555").attr("stroke-width", .8);
  let xTicks = [0, 10, 20, 30, 40, 50, 60];
  bottomAxis(x, 588, xTicks, xTicks, 0, 8, 9.5);
  svg.append("line").attr("x1", x(0)).attr("x2", x(60)).attr("y1", 588).attr("y2", 588).attr("stroke", frameColor);
  let yTicks = [0, 200, 400, 600];
  leftAxis(y, 69, yTicks, yTicks, 0, 52, 9.5);
  svg.append("line").attr("x1", 69).attr("x2", 69).attr("y1", y(0)).attr("y2", y(600)).attr("stroke", frameColor);
  txt("Histogram of k", 139, 423, 10.5, {bold: true});
  txt("Frequency", 31, 517, 9, {rot: -90});
  txt("k", 139, 627, 9);
}
drawHistogram();

function drawScaleFree() {
  let b = {x0: 279, x1: 419, y0: 446, y1: 588};
  let x = d3.scaleLinear().domain([.5, 1.5]).range([300.3, 390.3]);
  let y = d3.scaleLinear().domain([-2, -.5]).range([565, 462.7]);
  svg.append("clipPath").attr("id", "clip-free").append("rect")
    .attr("x", b.x0).attr("y", b.y0).attr("width", b.x1 - b.x0).attr("height", b.y1 - b.y0);
  svg.append("path")
    .attr("clip-path", "url(#clip-free)")
    .attr("d", d3.line()(fitLineX.map(function(v, i) { return [x(v), y(fitLineY[i])]; })))
    .attr("stroke", "#333").attr("fill", "none");
  circles(logK.map(function(v, i) { return [v, logPk[i]]; }), x, y, "#333", 2.3);
  frame(b);
  bottomAxis(x, b.y1, [.5, 1, 1.5], [.5, 1, 1.5], 1, 8, 9.5);
  leftAxis(y, b.x0, [-2, -1.5, -1, -.5], [-2, -1.5, -1, -.5], 1, 262, 9.5);
  txt("Check Scale free topology", 350, 417, 11.2, {bold: true});
  txt("scale R^2= 0.88 , slope= −1.28", 350, 430, 11.2, {bold: true, len: 153});
  txt("log10(k)", 349, 627, 9);
  txt("log10(p(k))", 240.7, 517, 9, {rot: -90});
}
drawScaleFree();

////////////////////////////////////////////////////////////////////////
// C: cluster dendrogram with colour rows

letter("C", 425, 187);
txt("Cluster Dendrogram", 615.7, 192, 9.4, {bold: true});

// draws the gene tree through a point mapper, used by C and J
function drawGeneTree(point, spikeWidth, curveWidth) {
  svg.append("path")
    .attr("d", d3.line()([point(0, 1), point(1000, 1)]))
    .attr("stroke", "#555").attr("stroke-width", curveWidth * .6).attr("fill", "none");
  svg.append("g").selectAll("path").data(geneSpikes).enter().append("path")
    .attr("d", function(d) { return d3.line()([point(d[0], d[2] || 1), point(d[0], d[1])]); })
    .attr("stroke", "#111").attr("stroke-width", spikeWidth).attr("fill", "none");
  svg.append("g").selectAll("path").data(geneCurves).enter().append("path")
    .attr("d", function(d) {
      return d3.line()(d.map(function(v) { return point(v[0], v[1]); }));
    })
    .attr("stroke", "#000").attr("stroke-width", curveWidth).attr("fill", "none").attr("stroke-linejoin", "round");
}

function drawClusterPanel() {
  let x = d3.scaleLinear().domain([0, 1000]).range([481, 751]);
  let y = d3.scaleLinear().domain([0, 1]).range([299, 208.7]);
  svg.append("g").selectAll("line").data(geneGuides).enter().append("line")
    .attr("x1", function(d) { return x(d); }).attr("x2", function(d) { return x(d); })
    .attr("y1", y(.97)).attr("y2", y(0))
    .attr("stroke", "#ddd").attr("stroke-width", .6).attr("stroke-dasharray", "1,1");
  drawGeneTree(function(p, h) { return [x(p), y(h)]; }, .8, 2);
  leftAxis(y, 469, geneAxisTicks, geneAxisTicks, 1, 457, 8);
  txt("Height", 438, 253, 8, {rot: -90});

  let rows = [manualHybridRow, singleBlockRow, twoBlockRow, gbmRow];
  let rowY = d3.scaleBand().domain(d3.range(4)).range([304, 359]);
  rows.forEach(function(row, r) {
    let prev = 0;
    row.forEach(function(seg) {
      let color = r === 3 ? corColor(seg[1]) : seg[1];
      svg.append("rect")
        .attr("x", x(prev)).attr("width", x(seg[0]) - x(prev))
        .attr("y", rowY(r)).attr("height", rowY.bandwidth())
        .attr("fill", color);
      prev = seg[0];
    });
    svg.append("line").attr("x1", x(0)).attr("x2", x(1000))
      .attr("y1", rowY(r)).attr("y2", rowY(r))
      .attr("stroke", r === 0 ? "#888" : "#333").attr("stroke-width", .7);
    txt(geneRowNames[r], 477, rowY(r) + rowY.bandwidth() / 2, 7.8, {anchor: "end"});
  });
}
drawClusterPanel();

////////////////////////////////////////////////////////////////////////
// D: module-trait heatmap

letter("D", 460, 414);
txt("Module−trait relationships", 647, 417, 12.6, {bold: true, len: 166});

function drawModuleTrait() {
  let rowY = d3.scaleBand().domain(moduleNames).range([437.7, 592.7]);
  let colX = d3.scaleBand().domain(traitNames).range([568, 691.7]);
  moduleNames.forEach(function(name, i) {
    let top = rowY(name), h = rowY.bandwidth(), mid = top + h / 2;
    svg.append("rect").attr("x", 546.7).attr("y", top).attr("width", 19.3).attr("height", h - .6).attr("fill", moduleSwatches[i]);
    txt(name, 543, mid, 11.5, {anchor: "end"});
    traitNames.forEach(function(trait, t) {
      let v = t === 0 ? normalCor[i] : -normalCor[i];
      svg.append("rect").attr("x", colX(trait)).attr("y", top)
        .attr("width", colX.bandwidth()).attr("height", h).attr("fill", corColor(v));
      let cx = colX(trait) + colX.bandwidth() / 2;
      txt(t === 0 ? normalCorText[i] : gbmCorText[i], cx, mid - 3.4, 5.2);
      txt(corP[i], cx, mid + 3.6, 5.2);
    });
  });
  frame({x0: 568, x1: 691.7, y0: 437.7, y1: 592.7});
  txt("Normal", 603, 603, 12, {anchor: "end", rot: -45});
  txt("GBM", 663, 603, 12, {anchor: "end", rot: -45});

  let legendY = d3.scaleLinear().domain([-1, 1]).range([583.5, 447.5]);
  svg.append("g").selectAll("rect").data(d3.range(-1, 1, .02)).enter().append("rect")
    .attr("x", 697).attr("width", 10)
    .attr("y", function(d) { return legendY(d + .02); })
    .attr("height", function(d) { return legendY(d) - legendY(d + .02) + .4; })
    .attr("fill", function(d) { return corColor(d + .01); });
  let axis = svg.append("g").attr("transform", "translate(707,0)")
    .call(d3.axisRight(legendY).tickValues(legendTicks).tickSize(5.5).tickPadding(3)
      .tickFormat(function(d, i) { return legendLabels[i]; }));
  axis.select(".domain").remove();
  axis.selectAll("text").attr("font-size", 11.5);
}
drawModuleTrait();

////////////////////////////////////////////////////////////////////////
// E-H: membership scatter plots

function drawScatter(s) {
  let x = d3.scaleLinear().domain([.3, .9]).range(s.xr);
  let y = d3.scaleLinear().domain(s.yd).range(s.yr);
  circles(s.points, x, y, s.color, 2.2, s.opacity);
  frame(s.b);
  bottomAxis(x, s.b.y1, membershipTicks, membershipTicks, 1, 6, 8.6);
  leftAxis(y, s.b.x0, s.yTicks, s.yTicks, 1, s.tickX, 8.6);
  txt("Module membership vs. gene significance", s.cx, 663, 8.7, {bold: true, len: 160});
  txt(s.title, s.cx, 672.7, 8.7, {bold: true});
  txt(s.xLabel, s.cx, 849, 8.4);
  txt("Gene significance for Status", s.labelX, 752, 8.3, {rot: -90});
}

drawScatter({b: {x0: 41.7, x1: 172.3, y0: 687.7, y1: 813.3}, xr: [46, 169.3], yd: [.2, .8], yr: [789, 693.3],
  yTicks: [.2, .4, .6, .8], points: bluePoints, color: "#2020e0", opacity: .85, cx: 107, tickX: 27, labelX: 8,
  title: statusTitles[0], xLabel: statusLabels[0]});
drawScatter({b: {x0: 231.7, x1: 362.3, y0: 687.7, y1: 813.3}, xr: [236.7, 362.7], yd: [0, .5], yr: [809.3, 702.3],
  yTicks: [0, .1, .2, .3, .4, .5], points: blackPoints, color: "#333", cx: 297, tickX: 218, labelX: 198,
  title: statusTitles[1], xLabel: statusLabels[1]});
drawScatter({b: {x0: 422.3, x1: 552.7, y0: 687.7, y1: 813.3}, xr: [427.3, 541.7], yd: [0, .6], yr: [809, 694.3],
  yTicks: [0, .1, .2, .3, .4, .5, .6], points: turquoisePoints, color: "#40e0d0", opacity: .8, cx: 487.3, tickX: 407.7, labelX: 388,
  title: statusTitles[2], xLabel: statusLabels[2]});
drawScatter({b: {x0: 612.7, x1: 753.3, y0: 687.7, y1: 813.3}, xr: [630.7, 743], yd: [0, .4], yr: [810, 701.7],
  yTicks: [0, .1, .2, .3, .4], points: purplePoints, color: "#a020f0", cx: 682, tickX: 599, labelX: 579.3,
  title: statusTitles[3], xLabel: statusLabels[3]});

letter("E", 4, 661);
letter("F", 193, 661);
letter("G", 385, 661);
letter("H", 573, 661);

////////////////////////////////////////////////////////////////////////
// I: bar chart of module significance

letter("I", 4, 875);

function drawBars() {
  let x = d3.scaleBand().domain(barModules).range([57, 367.3]).paddingInner(.163);
  let y = d3.scaleLinear().domain([0, .5]).range([976, 895]);
  svg.append("g").selectAll("rect").data(barModules).enter().append("rect")
    .attr("x", function(d) { return x(d); })
    .attr("width", x.bandwidth())
    .attr("y", function(d, i) { return y(barValues[i]); })
    .attr("height", function(d, i) { return y(0) - y(barValues[i]); })
    .attr("fill", function(d, i) { return barColors[i]; })
    .attr("stroke", "#777").attr("stroke-width", .8);
  barModules.forEach(function(m, i) {
    let cx = x(m) + x.bandwidth() / 2;
    let hi = y(barValues[i] + barErrors[i]), lo = y(barValues[i] - barErrors[i]);
    let p = d3.path();
    p.moveTo(cx, lo); p.lineTo(cx, hi);
    p.moveTo(cx - 6.5, hi); p.lineTo(cx + 6.5, hi);
    p.moveTo(cx - 6.5, lo); p.lineTo(cx + 6.5, lo);
    svg.append("path").attr("d", p.toString()).attr("stroke", "#333").attr("stroke-width", .7).attr("fill", "none");
    txt(m, cx, 988, 7.4);
  });
  leftAxis(y, 45, barTicks, barTicks, 1, 32, 7.3);
  txt("Gene Significance", 17, 936, 7.3, {rot: -90});
  txt("Module Significance of Disease Status p−value=3.1e−152", 212, 879, 8.8, {bold: true, len: 211});
}
drawBars();

////////////////////////////////////////////////////////////////////////
// J: network heatmap

letter("J", 384, 875);
txt("Network heatmap plot, all genes", 488, 872, 7.8, {bold: true, len: 112});

function drawNetworkHeatmap() {
  let x = d3.scaleLinear().domain([0, 1000]).range([426.3, 549.3]);
  let y = d3.scaleLinear().domain([0, 1000]).range([921.7, 1045]);
  let topH = d3.scaleLinear().domain([0, 1]).range([912, 878]);
  let leftH = d3.scaleLinear().domain([0, 1]).range([420, 388]);
  let heat = d3.scaleLinear().domain([0, .3, .6, .85, 1])
    .range(["#a6404b", "#c4603f", "#e89a3a", "#fbd66e", "#fffbe0"]);

  svg.append("rect").attr("x", x(0)).attr("y", y(0)).attr("width", x(1000) - x(0)).attr("height", y(1000) - y(0)).attr("fill", heat(0));
  svg.append("clipPath").attr("id", "clip-heat").append("rect")
    .attr("x", x(0)).attr("y", y(0)).attr("width", x(1000) - x(0)).attr("height", y(1000) - y(0));
  let heatG = svg.append("g").attr("clip-path", "url(#clip-heat)");
  tomStripes.forEach(function(d) {
    heatG.append("rect").attr("x", x(d[0])).attr("width", 1).attr("y", y(216)).attr("height", y(900) - y(216)).attr("fill", heat(d[1])).attr("opacity", .5);
    heatG.append("rect").attr("y", y(d[0])).attr("height", 1).attr("x", x(216)).attr("width", x(900) - x(216)).attr("fill", heat(d[1])).attr("opacity", .5);
  });
  heatG.append("g").style("filter", "blur(1.6px)").selectAll("rect").data(tomRects).enter().append("rect")
    .attr("x", function(d) { return x(d[0]); })
    .attr("width", function(d) { return x(d[1]) - x(d[0]); })
    .attr("y", function(d) { return y(d[2]); })
    .attr("height", function(d) { return y(d[3]) - y(d[2]); })
    .attr("fill", function(d) { return heat(d[4]); });
  heatG.append("g").selectAll("circle").data(tomDots).enter().append("circle")
    .attr("cx", function(d) { return x(d); })
    .attr("cy", function(d) { return y(d); })
    .attr("r", 1.2)
    .attr("fill", function(d) { return d === 653 ? heat(.85) : heat(.4); });

  drawGeneTree(function(p, h) { return [x(p), topH(h)]; }, .8, 2.6);
  drawGeneTree(function(p, h) { return [leftH(h), y(p)]; }, .8, 2.6);
  svg.append("line").attr("x1", 388).attr("x2", 388).attr("y1", y(0)).attr("y2", y(1000)).attr("stroke", "#777").attr("stroke-width", .7);
  svg.append("line").attr("x1", 388).attr("x2", 419).attr("y1", y(0)).attr("y2", y(0)).attr("stroke", "#777").attr("stroke-width", .7);
  svg.append("line").attr("x1", x(0)).attr("x2", x(0)).attr("y1", 879).attr("y2", 908).attr("stroke", "#777").attr("stroke-width", .7);

  let prev = 0;
  singleBlockRow.forEach(function(seg) {
    svg.append("rect").attr("x", x(prev)).attr("width", x(seg[0]) - x(prev)).attr("y", 915.3).attr("height", 3.6).attr("fill", seg[1]).attr("opacity", .85);
    svg.append("rect").attr("y", y(prev)).attr("height", y(seg[0]) - y(prev)).attr("x", 419.7).attr("width", 3.6).attr("fill", seg[1]).attr("opacity", .85);
    prev = seg[0];
  });
}
drawNetworkHeatmap();

////////////////////////////////////////////////////////////////////////
// K: MDS plot

letter("K", 573, 875);

function drawMds() {
  let b = {x0: 617.3, x1: 748.7, y0: 890.3, y1: 1008.3};
  let x = d3.scaleLinear().domain([-.5, .2]).range([621.7, 744.7]);
  let y = d3.scaleLinear().domain([-.2, .5]).range([1006, 897.3]);
  circles(mdsTurquoise, x, y, "#40e0d0", 2.2, .9);
  circles(mdsGrey, x, y, "#bebebe", 2.2);
  circles(mdsPink, x, y, "#ffc0cb", 2.2);
  circles(mdsYellow, x, y, "#ffff00", 2.2, 1, 1.1);
  circles(mdsGreen, x, y, "#00ff00", 2.2, 1, 1);
  circles(mdsBrown, x, y, "#a52a2a", 2.2);
  circles(mdsBlack, x, y, "#111", 2.2);
  circles(mdsRed, x, y, "#ff0000", 2.2);
  circles(mdsBlue, x, y, "#0000ff", 2.2, 1, 1);
  frame(b);
  bottomAxis(x, b.y1, mdsXTicks, mdsXLabelled, 1, 6, 8.2);
  leftAxis(y, b.x0, mdsYTicks, mdsYLabelled, 1, 605, 8.2);
  txt("MDS plot", 682.7, 873.7, 8.6, {bold: true});
  txt("Scaling Dimension 1", 682.7, 1037, 8);
  txt("Scaling Dimension 2", 588, 952, 8, {rot: -90});
}
drawMds();
</script>
</body>
</html>
